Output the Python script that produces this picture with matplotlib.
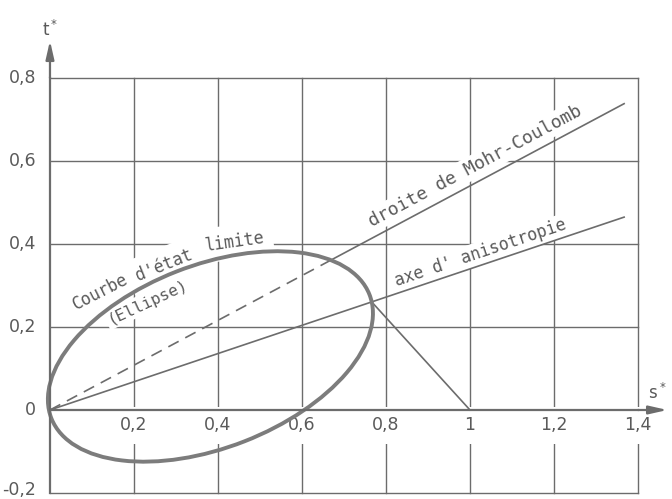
import numpy as np
import matplotlib
matplotlib.use("Agg")
import matplotlib.pyplot as plt
from matplotlib.patches import Ellipse

# Axis ticks and labels (French decimal comma)
s_ticks = [0.2, 0.4, 0.6, 0.8, 1.0, 1.2, 1.4]
s_labels = ["0,2", "0,4", "0,6", "0,8", "1", "1,2", "1,4"]
t_ticks = [-0.2, 0.0, 0.2, 0.4, 0.6, 0.8]
t_labels = ["-0,2", "0", "0,2", "0,4", "0,6", "0,8"]

# Straight lines through the origin: t = slope * s
mohr_slope = 0.54        # droite de Mohr-Coulomb
aniso_slope = 0.34       # axe d'anisotropie
line_end_s = 1.367

# Limit-state ellipse
ellipse_center = (0.382, 0.129)
ellipse_semi_axes = (0.407, 0.220)
ellipse_angle_deg = 21.6

# Segment from the ellipse tip on the anisotropy axis down to this point
stop_point = (1.0, 0.0)

LINE = "#6c6c6c"
TEXT = "#5a5a5a"
CURVE = "#7c7c7c"


def ellipse_hits(slope):
    """Parameters s where the line t = slope*s crosses the ellipse."""
    phi = np.radians(ellipse_angle_deg)
    e1 = np.array([np.cos(phi), np.sin(phi)])
    e2 = np.array([-np.sin(phi), np.cos(phi)])
    a, b = ellipse_semi_axes
    u = np.array([1.0, slope])
    c = np.array(ellipse_center)
    A = (u @ e1) ** 2 / a ** 2 + (u @ e2) ** 2 / b ** 2
    B = -2 * ((u @ e1) * (c @ e1) / a ** 2 + (u @ e2) * (c @ e2) / b ** 2)
    C = (c @ e1) ** 2 / a ** 2 + (c @ e2) ** 2 / b ** 2 - 1
    disc = np.sqrt(B * B - 4 * A * C)
    return (-B - disc) / (2 * A), (-B + disc) / (2 * A)


fig = plt.figure(figsize=(6.72, 4.99), dpi=100)
ax = fig.add_axes([0, 0, 1, 1])
ax.set_xlim(-0.119, 1.481)
ax.set_ylim(-0.2145, 0.988)
ax.axis("off")

s_max = s_ticks[-1]
t_min, t_max = t_ticks[0], t_ticks[-1]

# Grid
for s in s_ticks:
    ax.plot([s, s], [t_min, t_max], color=LINE, lw=1.0, zorder=1)
for t in t_ticks:
    if t != 0:
        ax.plot([0, s_max], [t, t], color=LINE, lw=1.0, zorder=1)

# Axes with arrows
ax.plot([0, 0], [t_min, t_max], color=LINE, lw=1.6, zorder=4)
ax.plot([0, s_max], [0, 0], color=LINE, lw=1.6, zorder=4)
arrow = dict(arrowstyle="-|>,head_length=1.1,head_width=0.25", color=LINE,
             lw=1.6, mutation_scale=10, shrinkA=0, shrinkB=0)
ax.annotate("", xy=(0, 0.89), xytext=(0, t_max), arrowprops=arrow, zorder=4)
ax.annotate("", xy=(1.47, 0), xytext=(s_max, 0), arrowprops=arrow, zorder=4)

# Tick labels
tick_font = dict(family="DejaVu Sans", fontsize=12.5, color=TEXT)
for s, lab in zip(s_ticks, s_labels):
    ax.text(s, -0.037, lab, ha="center", va="center", zorder=2,
            bbox=dict(boxstyle="square,pad=0.55", fc="white", ec="none"),
            **tick_font)
for t, lab in zip(t_ticks, t_labels):
    ax.text(-0.033, max(t, -0.192), lab, ha="right", va="center", **tick_font)

ax.text(0.0, 0.915, r"$\mathregular{t^*}$", ha="center", va="center",
        family="DejaVu Sans", fontsize=12, color=TEXT)
ax.text(1.445, 0.04, r"$\mathregular{s^*}$", ha="center", va="center",
        family="DejaVu Sans", fontsize=12, color=TEXT)

# Mohr-Coulomb line: dashed inside the ellipse, solid beyond it
_, s_mc = ellipse_hits(mohr_slope)
ax.plot([0, s_mc], [0, mohr_slope * s_mc], color=LINE, lw=1.2,
        dashes=(7, 4.5), zorder=3)
ax.plot([s_mc, line_end_s], [mohr_slope * s_mc, mohr_slope * line_end_s],
        color=LINE, lw=1.2, zorder=3)

# Anisotropy axis
ax.plot([0, line_end_s], [0, aniso_slope * line_end_s], color=LINE, lw=1.2,
        zorder=3)

# Segment from the ellipse tip to s* = 1
_, s_an = ellipse_hits(aniso_slope)
ax.plot([s_an, stop_point[0]], [aniso_slope * s_an, stop_point[1]],
        color=LINE, lw=1.2, zorder=3)

# Ellipse
ax.add_patch(Ellipse(ellipse_center, 2 * ellipse_semi_axes[0],
                     2 * ellipse_semi_axes[1], angle=ellipse_angle_deg,
                     fill=False, ec=CURVE, lw=2.8, zorder=3))

# Labels along the curves
label_font = dict(family="DejaVu Sans Mono", color=TEXT, ha="center",
                  va="center", rotation_mode="anchor", zorder=2)
white = dict(boxstyle="square,pad=0.15", fc="white", ec="none")
wide_white = dict(boxstyle="square,pad=0.5", fc="white", ec="none")
ax.text(1.012, 0.588, "droite de Mohr-Coulomb", fontsize=13, rotation=28.1,
        bbox=white, **label_font)
ax.text(1.024, 0.378, "axe d' anisotropie", fontsize=12, rotation=18.6,
        bbox=white, **label_font)
# the limit-curve caption bends with the ellipse, word by word
ax.text(0.119, 0.284, "Courbe", fontsize=12, rotation=27,
        bbox=white, **label_font)
ax.text(0.272, 0.350, "d'état", fontsize=12, rotation=22,
        bbox=wide_white, **label_font)
ax.text(0.440, 0.405, "limite", fontsize=12, rotation=8,
        bbox=wide_white, **label_font)
ax.text(0.233, 0.260, "(Ellipse)", fontsize=11.5, rotation=25,
        bbox=white, **label_font)

fig.savefig("out.png", dpi=100, facecolor="white")
